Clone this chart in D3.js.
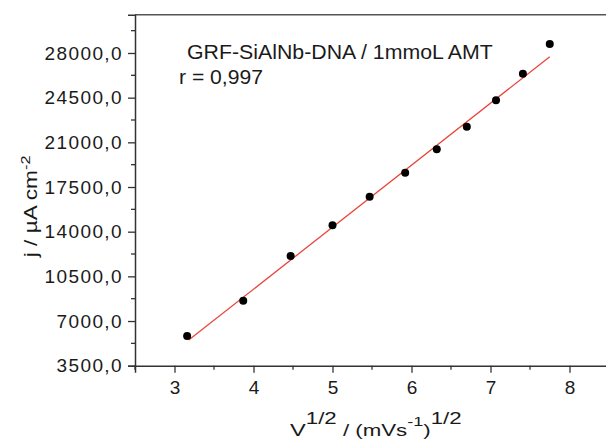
<!DOCTYPE html>
<html>
<head>
<meta charset="utf-8">
<script src="https://cdn.jsdelivr.net/npm/d3@7"></script>
<style>
  body { margin: 0; background: #fff; }
  svg text { font-family: "Liberation Sans", Arial, sans-serif; fill: #1a1a1a; }
</style>
</head>
<body>
<div id="chart"></div>
<script>
const sqrtScanRate = [3.16, 3.87, 4.47, 5.00, 5.47, 5.92, 6.32, 6.70, 7.07, 7.41, 7.75];
const currentDensity = [5830, 8590, 12100, 14500, 16740, 18620, 20450, 22230, 24290, 26380, 28700];

// fitted line ends, as drawn in the figure
const fitX = [3.18, 7.75];
const fitY = [5510, 27710];

const xTicks = [3, 4, 5, 6, 7, 8];
const yTicks = [3500, 7000, 10500, 14000, 17500, 21000, 24500, 28000];

const width = 606, height = 440;
const margin = {top: 14.7, right: -3, bottom: 74.3, left: 135};

const svg = d3.select("#chart").append("svg")
    .attr("width", width)
    .attr("height", height);

const x = d3.scaleLinear()
    .domain([2.5, 8.5])
    .range([margin.left, width - margin.right]);

const y = d3.scaleLinear()
    .domain([3500, 31000])
    .range([height - margin.bottom, margin.top]);

const axisColor = "#333";

// stretch a text horizontally so it spans x0..x1
function fitText(t, x0, x1, baseline) {
    const b = t.node().getBBox();
    const s = (x1 - x0) / b.width;
    t.attr("transform", `translate(${x0 - b.x * s},${baseline}) scale(${s},1)`);
}

// top frame line
svg.append("line")
    .attr("x1", margin.left).attr("x2", width)
    .attr("y1", y(31000)).attr("y2", y(31000))
    .attr("stroke", "#555").attr("stroke-width", 1.6);

// minor ticks
const yMinor = d3.range(3500 + 1750, 31000, 3500);
const xMinor = d3.range(2.5, 8.6, 1);

const gy = svg.append("g").attr("transform", `translate(${margin.left},0)`);
gy.call(d3.axisLeft(y).tickValues(yTicks).tickSize(7).tickPadding(5)
    .tickFormat(d => d3.format(".1f")(d).replace(".", ",")));
gy.selectAll(".tick text").attr("font-size", 19).attr("letter-spacing", 1.4)
    .attr("font-family", "Liberation Sans, Arial, sans-serif");
gy.selectAll(".tick line").attr("stroke", axisColor).attr("stroke-width", 1.3);
gy.select(".domain").attr("stroke", axisColor).attr("stroke-width", 1.5);
gy.selectAll(".minor").data(yMinor).enter().append("line")
    .attr("x1", -4).attr("x2", 0)
    .attr("y1", d => y(d)).attr("y2", d => y(d))
    .attr("stroke", axisColor).attr("stroke-width", 1.3);

const gx = svg.append("g").attr("transform", `translate(0,${y(3500)})`);
gx.call(d3.axisBottom(x).tickValues(xTicks).tickSize(7).tickPadding(8).tickFormat(d3.format("d")));
gx.selectAll(".tick text").attr("font-size", 19)
    .attr("font-family", "Liberation Sans, Arial, sans-serif");
gx.selectAll(".tick line").attr("stroke", axisColor).attr("stroke-width", 1.3);
gx.select(".domain").attr("stroke", axisColor).attr("stroke-width", 1.5);
gx.selectAll(".minor").data(xMinor).enter().append("line")
    .attr("x1", d => x(d)).attr("x2", d => x(d))
    .attr("y1", 0).attr("y2", 4)
    .attr("stroke", axisColor).attr("stroke-width", 1.3);

// fit line
svg.append("line")
    .attr("x1", x(fitX[0])).attr("y1", y(fitY[0]))
    .attr("x2", x(fitX[1])).attr("y2", y(fitY[1]))
    .attr("stroke", "#e8453c").attr("stroke-width", 1.3);

// points
svg.append("g").selectAll("circle")
    .data(sqrtScanRate.map((v, i) => [v, currentDensity[i]]))
    .enter().append("circle")
    .attr("cx", d => x(d[0]))
    .attr("cy", d => y(d[1]))
    .attr("r", 4)
    .attr("fill", "#000");

// annotation
const t1 = svg.append("text").attr("font-size", 20)
    .text("GRF-SiAlNb-DNA / 1mmoL AMT");
fitText(t1, 187, 493, 58.5);
const t2 = svg.append("text").attr("font-size", 20)
    .text("r = 0,997");
fitText(t2, 179, 263, 84);

// y label
const yl = svg.append("text")
    .attr("text-anchor", "middle")
    .attr("font-size", 18);
yl.append("tspan").text("j / µA cm");
yl.append("tspan").attr("dy", -7).attr("font-size", 13).text("-2");
{
    const b = yl.node().getBBox();
    const s = 103 / b.width;
    const mid = b.x + b.width / 2;
    yl.attr("transform", `translate(37,207) rotate(-90) scale(${s},1) translate(${-mid},0)`);
}

// x label
const xl = svg.append("text").attr("font-size", 17);
xl.append("tspan").text("V");
xl.append("tspan").attr("dy", -12).attr("font-size", 16).text("1/2");
xl.append("tspan").attr("dy", 12).attr("font-size", 16).text(" / (mVs");
xl.append("tspan").attr("dy", -10).attr("font-size", 13).text("-1");
xl.append("tspan").attr("dy", 10).attr("font-size", 16).text(")");
xl.append("tspan").attr("dy", -12).attr("font-size", 16).text("1/2");
fitText(xl, 290, 462, 436);
</script>
</body>
</html>
